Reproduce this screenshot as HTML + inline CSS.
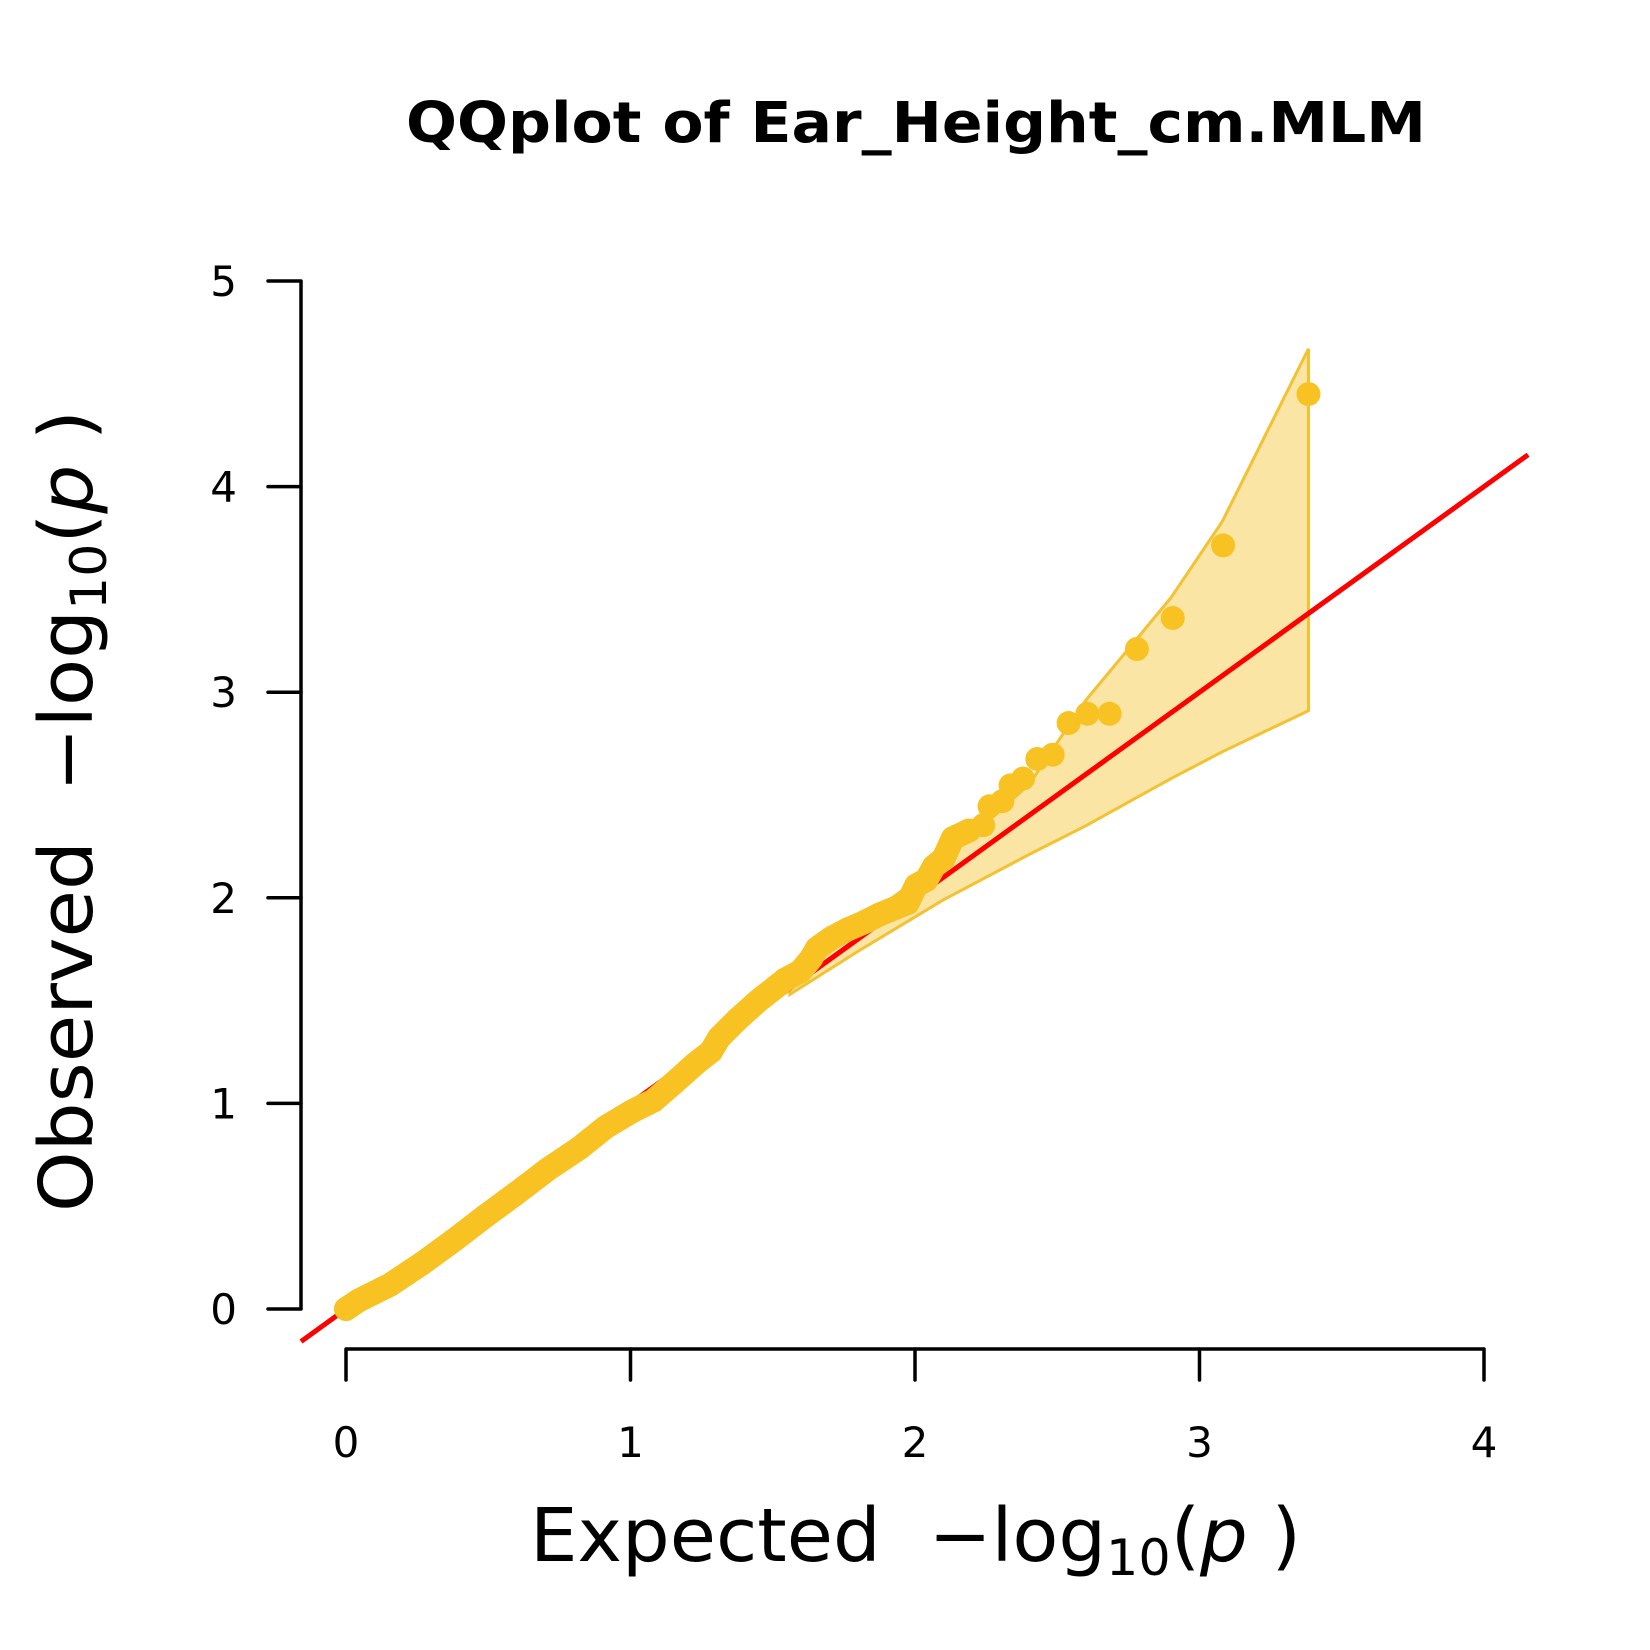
<!DOCTYPE html>
<html><head><meta charset="utf-8"><style>html,body{margin:0;padding:0;background:#fff}svg{display:block}</style></head>
<body>
<svg id="chart" width="1650" height="1650" viewBox="0 0 1650 1650" xmlns="http://www.w3.org/2000/svg" font-family="'DejaVu Sans','Liberation Sans',sans-serif">
<rect width="1650" height="1650" fill="#fff"/>
<text x="406" y="142" font-size="56" font-weight="bold" textLength="1020" lengthAdjust="spacingAndGlyphs">QQplot of Ear_Height_cm.MLM</text>
<g id="band"></g>
<g id="refline"></g>
<g id="points"></g>
<g id="axes"></g>
<text x="530" y="1561" font-size="74" textLength="771" lengthAdjust="spacingAndGlyphs">Expected&#160;&#160;−log<tspan font-size="50" dy="14">10</tspan><tspan dy="-14">(</tspan><tspan font-style="italic">p</tspan>&#160;)</text>
<text transform="translate(92,1212) rotate(-90)" x="0" y="0" font-size="74" textLength="802" lengthAdjust="spacingAndGlyphs">Observed&#160;&#160;−log<tspan font-size="50" dy="14">10</tspan><tspan dy="-14">(</tspan><tspan font-style="italic">p</tspan>&#160;)</text>
</svg>
<script>
const xTicks = [0,1,2,3,4];
const yTicks = [0,1,2,3,4,5];
const expected = [0,0.044,0.155,0.266,0.377,0.488,0.599,0.71,0.821,0.913,1.006,1.08,1.153,1.227,1.283,1.312,1.375,1.449,1.505,1.542,1.597,1.634,1.656,1.708,1.763,1.82,1.874,1.93,1.974,2.004,2.04,2.067,2.10,2.133,2.19,2.24,2.262,2.307,2.336,2.38,2.43,2.484,2.54,2.606,2.684,2.78,2.906,3.083,3.383];
const observed = [0,0.041,0.118,0.22,0.332,0.45,0.563,0.68,0.783,0.885,0.962,1.013,1.10,1.192,1.253,1.32,1.407,1.499,1.56,1.601,1.642,1.703,1.755,1.806,1.846,1.88,1.918,1.95,1.974,2.06,2.087,2.153,2.19,2.29,2.327,2.353,2.445,2.47,2.547,2.58,2.675,2.696,2.85,2.895,2.895,3.21,3.361,3.714,4.45];
const bandX = [1.56,1.8,2.1,2.4,2.6,2.9,3.08,3.383];
const bandUpper = [1.58,1.88,2.18,2.55,2.96,3.46,3.83,4.67];
const bandLower = [1.53,1.74,1.99,2.21,2.35,2.58,2.71,2.91];

const NS='http://www.w3.org/2000/svg';
const X0=346, XS=284.5, Y0=1309, YS=205.6;
function sx(v){return X0+v*XS;}
function sy(v){return Y0-v*YS;}
function mk(tag,attrs,parent){const e=document.createElementNS(NS,tag);for(const k in attrs)e.setAttribute(k,attrs[k]);parent.appendChild(e);return e;}

const band=document.getElementById('band');
let d='M'+bandX.map((x,i)=>sx(x)+','+sy(bandUpper[i])).join(' L');
for(let i=bandX.length-1;i>=0;i--) d+=' L'+sx(bandX[i])+','+sy(bandLower[i]);
d+=' Z';
const bp=mk('path',{d:d,fill:'#fae5a5',stroke:'#f3c232','stroke-width':3,'stroke-linejoin':'miter'},band);



const rl=mk('line',{x1:sx(-0.158),y1:sy(-0.158),x2:sx(4.155),y2:sy(4.155),stroke:'#ff0000','stroke-width':5},document.getElementById('refline'));



const pg=document.getElementById('points');
const dense=[];
expected.forEach((x,i)=>{if(x<=2.2)dense.push(sx(x)+','+sy(observed[i]));});
const tp=mk('polyline',{points:dense.join(' '),fill:'none',stroke:'#f8c223','stroke-width':24,'stroke-linecap':'round','stroke-linejoin':'round'},pg);


expected.forEach((x,i)=>{
  const c=mk('circle',{cx:sx(x),cy:sy(observed[i]),r:12,fill:'#f8c223'},pg);
  
  
});

const ax=document.getElementById('axes');
const xl=mk('line',{x1:sx(0),y1:1349,x2:sx(4),y2:1349,stroke:'#000','stroke-width':3.5},ax);


xTicks.forEach(t=>{
  const l=mk('line',{x1:sx(t),y1:1349,x2:sx(t),y2:1380,stroke:'#000','stroke-width':3.5,'stroke-linecap':'round'},ax);
  
  
  const tx=mk('text',{x:sx(t),y:1457,'font-size':42,'text-anchor':'middle'},ax);
  tx.textContent=t;
  
  
});
const yl=mk('line',{x1:301,y1:sy(0),x2:301,y2:sy(5),stroke:'#000','stroke-width':3.5},ax);


yTicks.forEach(t=>{
  const l=mk('line',{x1:268,y1:sy(t),x2:301,y2:sy(t),stroke:'#000','stroke-width':3.5,'stroke-linecap':'round'},ax);
  
  
  const tx=mk('text',{x:237,y:sy(t)+15,'font-size':42,'text-anchor':'end'},ax);
  tx.textContent=t;
  
  
});
</script>
</body></html>
